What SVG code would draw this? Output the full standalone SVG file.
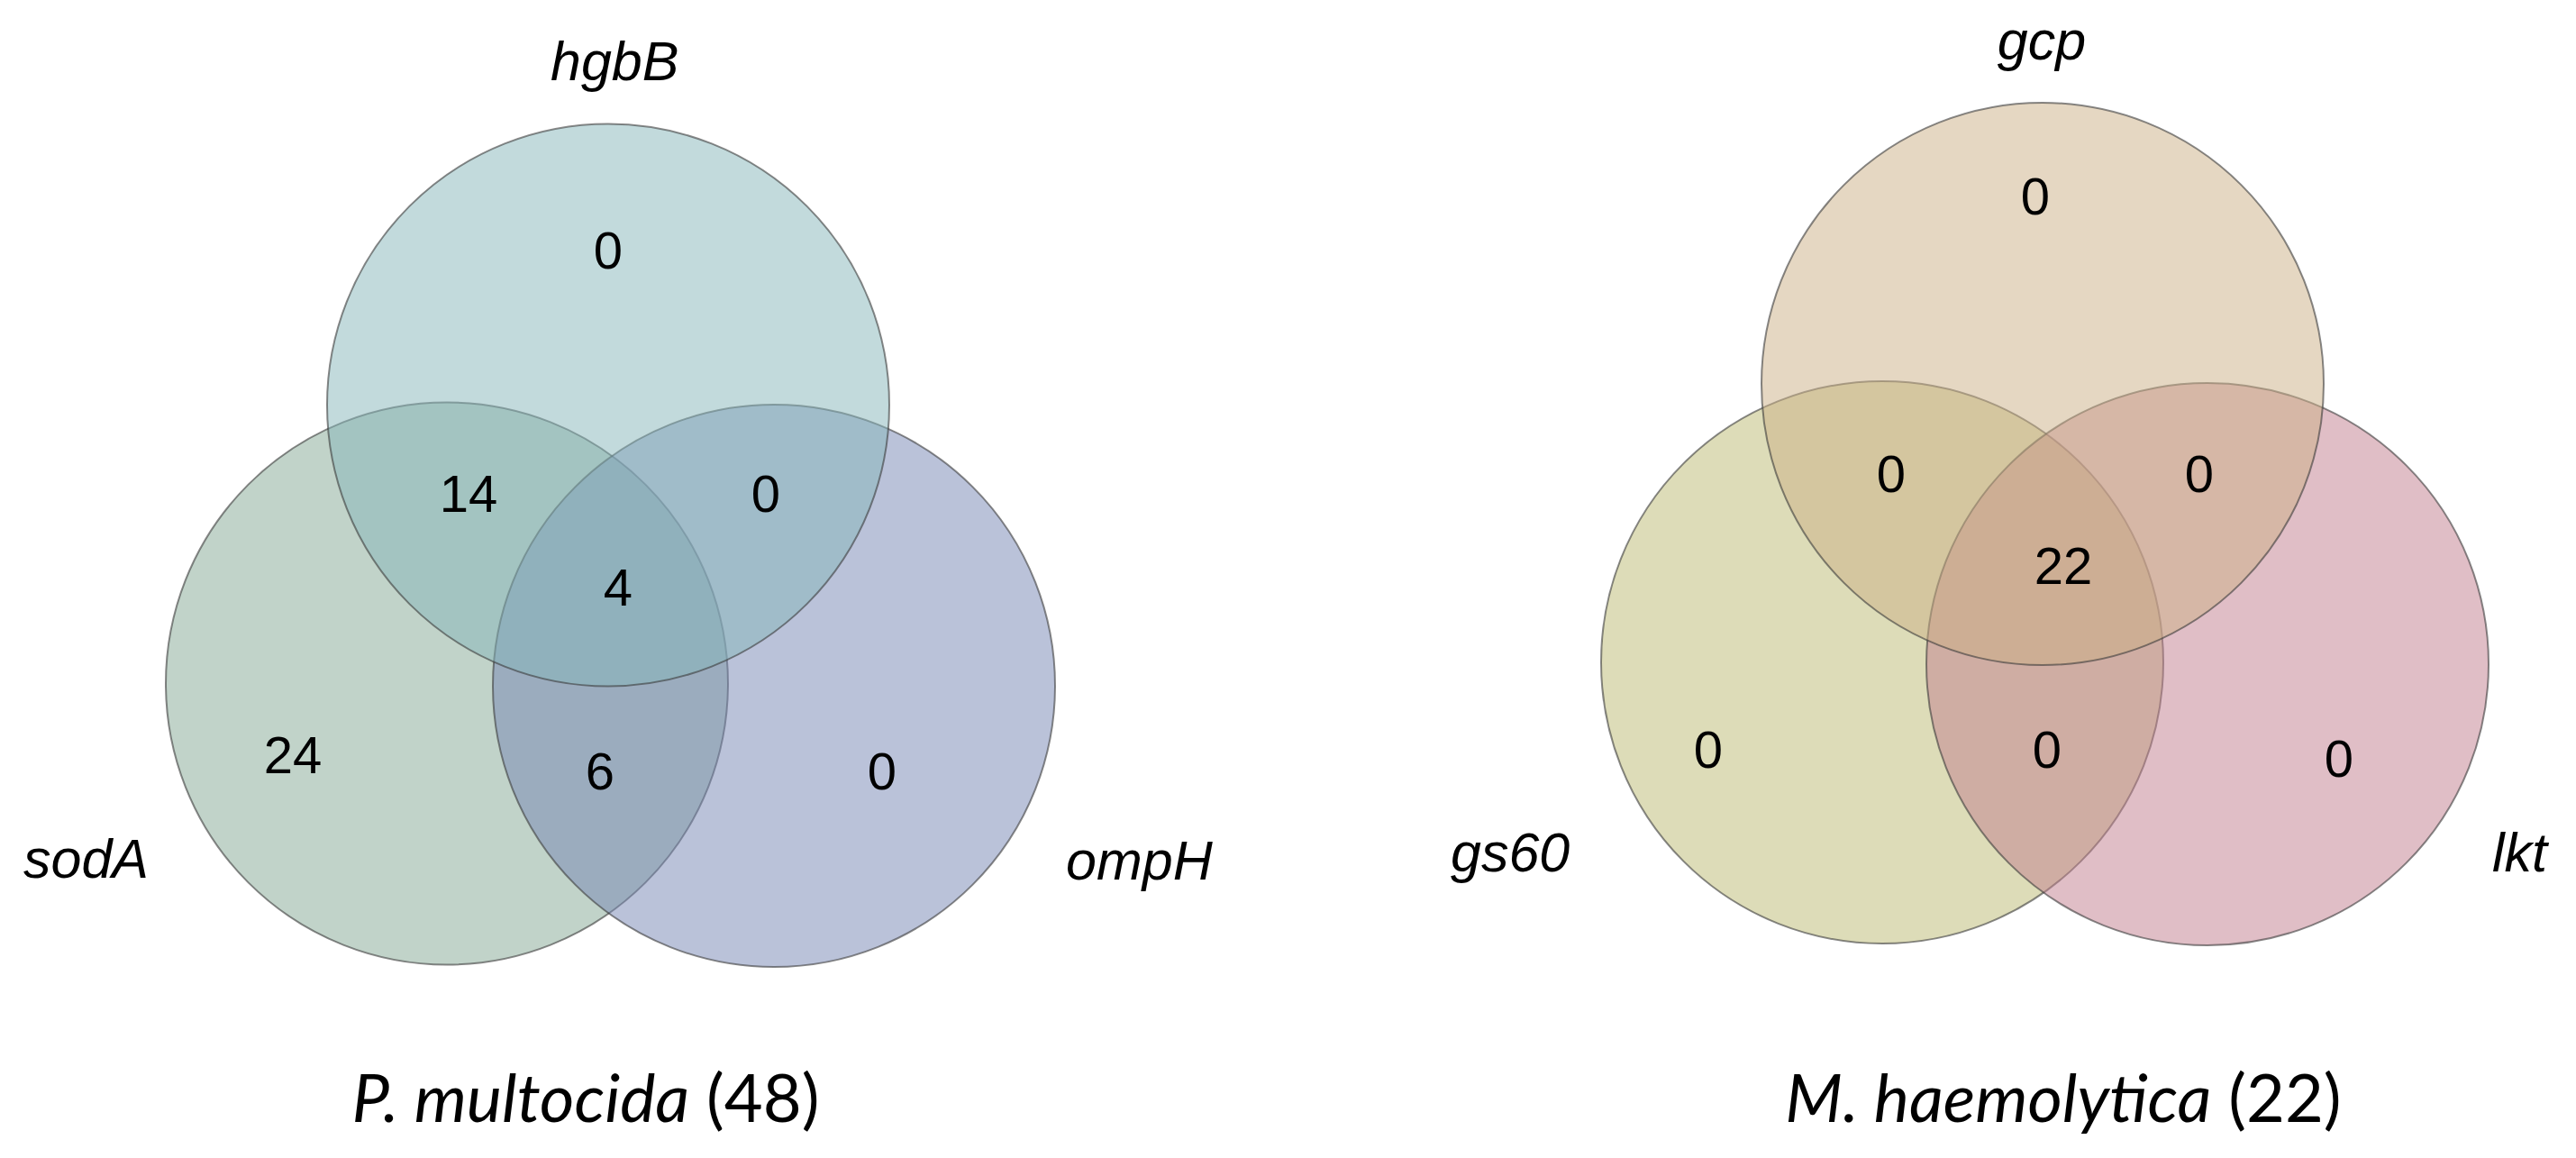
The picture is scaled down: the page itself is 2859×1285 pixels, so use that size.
<svg xmlns="http://www.w3.org/2000/svg" width="2859" height="1285" viewBox="0 0 2859 1285">
<style>
.c{stroke:#3a3a3a;stroke-opacity:0.6;stroke-width:2;fill-opacity:0.5}
.n{font-family:"Liberation Sans",Arial,sans-serif;font-size:58px;fill:#000;text-anchor:middle}
.g{font-family:"Liberation Sans",Arial,sans-serif;font-size:61px;font-style:italic;fill:#000}
.t{font-family:Lato,"Open Sans",sans-serif;font-size:74px;fill:#000;text-anchor:middle}
</style>
<rect width="2859" height="1285" fill="#fff"/>
<g id="venn-left">
<g id="sodA"><circle class="c" cx="496" cy="758.5" r="312" fill="#83A793"/></g>
<g id="ompH"><circle class="c" cx="859" cy="761" r="312" fill="#7585B3"/></g>
<g id="hgbB"><circle class="c" cx="675" cy="449.5" r="312" fill="#85B5B9"/></g>
<g id="counts-left">
<text class="n" x="675" y="298">0</text>
<text class="n" x="520" y="568">14</text>
<text class="n" x="850" y="568">0</text>
<text class="n" x="686" y="672">4</text>
<text class="n" x="325" y="858">24</text>
<text class="n" x="666" y="876">6</text>
<text class="n" x="979" y="876">0</text>
</g>
<text class="g" x="611" y="89">hgbB</text>
<text class="g" x="26" y="974">sodA</text>
<text class="g" x="1183" y="976">ompH</text>
<text class="t" x="650" y="1245"><tspan font-style="italic">P. multocida</tspan> (48)</text>
</g>
<g id="venn-right">
<g id="gs60"><circle class="c" cx="2089" cy="735" r="312" fill="#BBB971"/></g>
<g id="lkt"><circle class="c" cx="2450" cy="737" r="312" fill="#C17D8D"/></g>
<g id="gcp"><circle class="c" cx="2267" cy="426" r="312" fill="#CBAF85"/></g>
<g id="counts-right">
<text class="n" x="2259" y="238">0</text>
<text class="n" x="2099" y="546">0</text>
<text class="n" x="2441" y="546">0</text>
<text class="n" x="2290" y="648">22</text>
<text class="n" x="1896" y="852">0</text>
<text class="n" x="2272" y="852">0</text>
<text class="n" x="2596" y="862">0</text>
</g>
<text class="g" x="2266" y="66" text-anchor="middle">gcp</text>
<text class="g" x="1610" y="967">gs60</text>
<text class="g" x="2766" y="967">lkt</text>
<text class="t" x="2290" y="1245"><tspan font-style="italic">M. haemolytica</tspan> (22)</text>
</g>
<g id="connectors"/>
</svg>
